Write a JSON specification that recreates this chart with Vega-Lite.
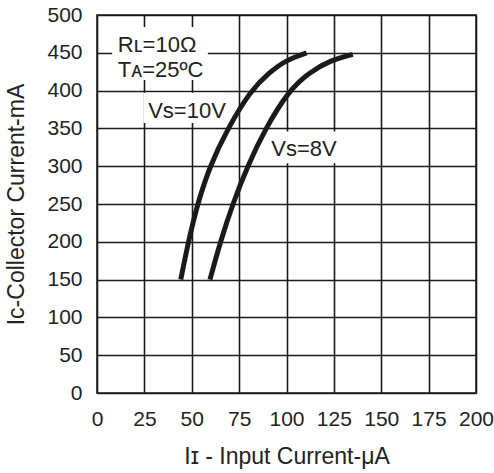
{
  "$schema": "https://vega.github.io/schema/vega-lite/v6.json",
  "autosize": "none",
  "width": 379,
  "height": 378,
  "padding": {"left": 97, "top": 15, "right": 18, "bottom": 80},
  "background": "white",
  "config": {
    "font": "Liberation Sans",
    "view": {"stroke": "#555555", "strokeWidth": 2},
    "axis": {
      "grid": true,
      "gridColor": "#1a1a1a",
      "gridWidth": 1.6,
      "gridOpacity": 1,
      "ticks": false,
      "domain": false,
      "labelFont": "Liberation Sans",
      "labelFontSize": 21,
      "labelColor": "#222222",
      "labelOverlap": false,
      "labelFlush": false,
      "titleFont": "Liberation Sans",
      "titleFontSize": 23,
      "titleFontWeight": "normal",
      "titleColor": "#222222"
    }
  },
  "datasets": {
    "curves": [
      {"series": "10V", "ii": 44.2, "ic": 150},
      {"series": "10V", "ii": 48.2, "ic": 200},
      {"series": "10V", "ii": 53, "ic": 250},
      {"series": "10V", "ii": 59.5, "ic": 300},
      {"series": "10V", "ii": 69, "ic": 350},
      {"series": "10V", "ii": 81, "ic": 400},
      {"series": "10V", "ii": 91, "ic": 424},
      {"series": "10V", "ii": 99.5, "ic": 440},
      {"series": "10V", "ii": 110.6, "ic": 450},
      {"series": "8V", "ii": 59.6, "ic": 150},
      {"series": "8V", "ii": 65.1, "ic": 200},
      {"series": "8V", "ii": 71.6, "ic": 250},
      {"series": "8V", "ii": 79.4, "ic": 300},
      {"series": "8V", "ii": 88.9, "ic": 350},
      {"series": "8V", "ii": 101.2, "ic": 400},
      {"series": "8V", "ii": 112, "ic": 424},
      {"series": "8V", "ii": 123, "ic": 440},
      {"series": "8V", "ii": 135, "ic": 448}
    ],
    "boxes": [
      {"x1": 8, "x2": 58.5, "y1": 414, "y2": 484},
      {"x1": 24.5, "x2": 67.5, "y1": 357, "y2": 397},
      {"x1": 90, "x2": 128, "y1": 304, "y2": 346}
    ],
    "labels": [
      {"text": "Rʟ=10Ω", "lx": 11, "ly": 460},
      {"text": "Tᴀ=25ºC", "lx": 11, "ly": 427},
      {"text": "Vs=10V", "lx": 27, "ly": 373},
      {"text": "Vs=8V", "lx": 92, "ly": 323}
    ]
  },
  "layer": [
    {
      "data": {"name": "boxes"},
      "mark": {"type": "rect", "fill": "white", "stroke": null},
      "encoding": {
        "x": {"field": "x1", "type": "quantitative", "scale": {"domain": [0, 200]},
          "axis": {"values": [0, 25, 50, 75, 100, 125, 150, 175, 200], "labelPadding": 15, "title": "Iɪ - Input Current-μA", "titlePadding": 16}},
        "x2": {"field": "x2"},
        "y": {"field": "y1", "type": "quantitative", "scale": {"domain": [0, 500]},
          "axis": {"values": [0, 50, 100, 150, 200, 250, 300, 350, 400, 450, 500], "labelPadding": 15, "title": "Iᴄ-Collector Current-mA", "titlePadding": 18}},
        "y2": {"field": "y2"}
      }
    },
    {
      "data": {"name": "curves"},
      "mark": {"type": "line", "color": "#1a1a1a", "strokeWidth": 5, "interpolate": "basis", "strokeCap": "butt"},
      "encoding": {
        "x": {"field": "ii", "type": "quantitative",
          "axis": {"values": [0, 25, 50, 75, 100, 125, 150, 175, 200], "labelPadding": 15, "title": "Iɪ - Input Current-μA", "titlePadding": 16}},
        "y": {"field": "ic", "type": "quantitative",
          "axis": {"values": [0, 50, 100, 150, 200, 250, 300, 350, 400, 450, 500], "labelPadding": 15, "title": "Iᴄ-Collector Current-mA", "titlePadding": 18}},
        "detail": {"field": "series"}
      }
    },
    {
      "data": {"name": "labels"},
      "mark": {"type": "text", "align": "left", "baseline": "middle", "fontSize": 22, "color": "#222222", "font": "Liberation Sans"},
      "encoding": {
        "x": {"field": "lx", "type": "quantitative",
          "axis": {"values": [0, 25, 50, 75, 100, 125, 150, 175, 200], "labelPadding": 15, "title": "Iɪ - Input Current-μA", "titlePadding": 16}},
        "y": {"field": "ly", "type": "quantitative",
          "axis": {"values": [0, 50, 100, 150, 200, 250, 300, 350, 400, 450, 500], "labelPadding": 15, "title": "Iᴄ-Collector Current-mA", "titlePadding": 18}},
        "text": {"field": "text"}
      }
    }
  ]
}
